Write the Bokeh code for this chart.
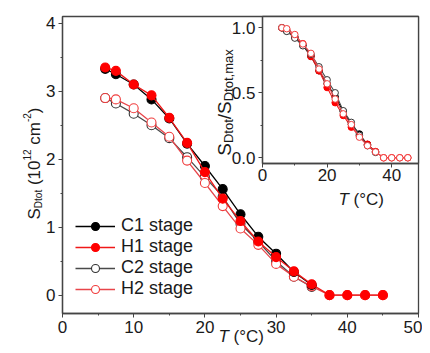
import math
from bokeh.plotting import figure
from bokeh.models import (Range1d, SingleIntervalTicker, Legend, LegendItem, Label,
                          PrintfTickFormatter)
from bokeh.embed import file_html
from bokeh.resources import INLINE

# ---------------- data ----------------
T = [6, 7.5, 10, 12.5, 15, 17.5, 20, 22.5, 25, 27.5, 30, 32.5, 35, 37.5, 40, 42.5, 45]
C1 = [3.33, 3.25, 3.10, 2.88, 2.60, 2.23, 1.90, 1.56, 1.19, 0.86, 0.61, 0.34, 0.15]
H1 = [3.35, 3.30, 3.10, 2.94, 2.61, 2.24, 1.81, 1.42, 1.09, 0.79, 0.56, 0.35, 0.16, 0.0, 0.0, 0.0, 0.0]
C2 = [2.90, 2.82, 2.67, 2.50, 2.31, 2.03, 1.74, 1.45, 1.05, 0.79, 0.50, 0.27, 0.12]
H2 = [2.90, 2.88, 2.75, 2.54, 2.33, 1.98, 1.65, 1.31, 0.98, 0.74, 0.46, 0.27, 0.13, 0.0, 0.0, 0.0, 0.0]
labels = ["C1 stage", "H1 stage", "C2 stage", "H2 stage"]

FONT = "Liberation Sans"
AX = "#444444"
TXT = "#1a1a1a"

styles = {
    "C1 stage": dict(line="#000000", mline="#000000", fill="#000000"),
    "H1 stage": dict(line="#f01818", mline="#ff0000", fill="#ff0000"),
    "C2 stage": dict(line="#4a4a4a", mline="#333333", fill="#ffffff"),
    "H2 stage": dict(line="#e8454a", mline="#f03c3c", fill="#ffffff"),
}
data = {"C1 stage": C1, "H1 stage": H1, "C2 stage": C2, "H2 stage": H2}


def style_axes(fig, xint, yint):
    fig.xgrid.visible = False
    fig.ygrid.visible = False
    fig.outline_line_color = AX
    fig.outline_line_width = 1.3
    fig.xaxis.ticker = SingleIntervalTicker(interval=xint, num_minor_ticks=2)
    fig.yaxis.ticker = SingleIntervalTicker(interval=yint, num_minor_ticks=2)
    for ax in (fig.xaxis, fig.yaxis):
        ax.axis_line_color = AX
        ax.axis_line_width = 1.3
        ax.major_tick_line_color = AX
        ax.minor_tick_line_color = AX
        ax.major_tick_in = 0
        ax.major_tick_out = 4
        ax.minor_tick_in = 0
        ax.minor_tick_out = 2
        ax.major_label_text_font = FONT
        ax.major_label_text_font_size = "17px"
        ax.major_label_text_color = TXT
        ax.major_label_standoff = 3


# ---------------- main figure ----------------
FL, FT, FW, FH = 54, 8, 356, 297   # frame in figure px; figure at page (8, 8)
p = figure(frame_width=FW, frame_height=FH,
           min_border_left=FL, min_border_right=4, min_border_top=FT, min_border_bottom=32,
           x_range=Range1d(0, 50), y_range=Range1d(-0.27, 4.10),
           output_backend="svg", toolbar_location=None)
p.background_fill_color = "white"
p.border_fill_color = "white"
p.styles = {"position": "absolute", "left": "8px", "top": "8px"}
style_axes(p, 10, 1)

rends = {}
for name in ["C2 stage", "H2 stage", "C1 stage", "H1 stage"]:
    ys = data[name]
    xs = T[:len(ys)]
    st = styles[name]
    l = p.line(xs, ys, line_color=st["line"], line_width=1.3)
    s = p.scatter(xs, ys, marker="circle", size=9, fill_color=st["fill"],
                  line_color=st["mline"], line_width=1.1)
    rends[name] = [l, s]

legend = Legend(items=[LegendItem(label=n, renderers=rends[n]) for n in labels],
                location=(13, 14), glyph_width=40, glyph_height=20, label_height=20,
                spacing=0, padding=0, margin=0, label_standoff=6,
                border_line_alpha=0, background_fill_alpha=0,
                label_text_font=FONT, label_text_font_size="18px", label_text_color=TXT)
p.add_layout(legend)

# ---------------- inset ----------------
IL, IT = 212, 14           # inset figure page position
IFL, IFT, IFW, IFH = 50, 2, 156, 147
inset = figure(frame_width=IFW, frame_height=IFH,
               min_border_left=IFL, min_border_right=2, min_border_top=IFT, min_border_bottom=45,
               x_range=Range1d(0, 48.3), y_range=Range1d(-0.044, 1.087),
               output_backend="svg", toolbar_location=None)
inset.background_fill_color = "white"
inset.border_fill_alpha = 0
inset.styles = {"position": "absolute", "left": f"{IL}px", "top": f"{IT}px"}
style_axes(inset, 20, 0.5)
inset.xaxis.major_label_standoff = 1
inset.yaxis.formatter = PrintfTickFormatter(format="%.1f")

for name in labels:
    ys = data[name]
    m = max(ys)
    yn = [v / m for v in ys]
    xs = T[:len(ys)]
    st = styles[name]
    inset.line(xs, yn, line_color=st["line"], line_width=1.1)
    inset.scatter(xs, yn, marker="circle", size=6.5, fill_color=st["fill"],
                  line_color=st["mline"], line_width=1.0)

# ---------------- text overlay (coordinates = page pixels) ----------------
ov = figure(frame_width=414, frame_height=337, min_border=0,
            x_range=Range1d(8, 422), y_range=Range1d(345, 8),
            x_axis_location=None, y_axis_location=None,
            output_backend="svg", toolbar_location=None)
ov.background_fill_alpha = 0
ov.border_fill_alpha = 0
ov.outline_line_color = None
ov.xgrid.visible = False
ov.ygrid.visible = False
ov.styles = {"position": "absolute", "left": "8px", "top": "8px", "pointer-events": "none"}

W = {"S": 0.667, "D": 0.722, "t": 0.278, "o": 0.556, " ": 0.278, "(": 0.333, ")": 0.333,
     "1": 0.556, "2": 0.556, "0": 0.556, "c": 0.5, "m": 0.833, "-": 0.333, "/": 0.278,
     ",": 0.278, "a": 0.556, "x": 0.5, "T": 0.611, "°": 0.4, "C": 0.722}

def len_px(txt, size):
    return sum(W.get(ch, 0.55) for ch in txt) * size

def piece_len(pc):
    txt, size, shift = pc
    return len_px(txt, size) if txt else size  # empty text = gap of `size` px

def rot_pieces(pieces, x_base, y_center):
    """pieces: (text, size, baseline_shift_px); text reads bottom->top."""
    y = y_center + sum(piece_len(pc) for pc in pieces) / 2
    for pc in pieces:
        txt, size, shift = pc
        if txt:
            ov.add_layout(Label(x=x_base + shift, y=y, text=txt, angle=math.pi / 2,
                                text_font=FONT, text_font_size=f"{size}px", text_color=TXT,
                                text_align="left", text_baseline="alphabetic"))
        y -= piece_len(pc)

def t_label(x, y):
    ov.add_layout(Label(x=x, y=y, text="T", text_font=FONT, text_font_size="17px",
                        text_font_style="italic", text_color=TXT, text_baseline="alphabetic"))
    ov.add_layout(Label(x=x + 10.4 + 4.7, y=y, text="(°C)", text_font=FONT,
                        text_font_size="17px", text_color=TXT, text_baseline="alphabetic"))

rot_pieces([("S", 17, 0), ("Dtot", 10, 4), ("", 4.7, 0), ("(10", 17, 0), ("12", 10, -8),
            ("", 4.7, 0), ("cm", 17, 0), ("-2", 10, -8), (")", 17, 0)], 34, 163)
t_label(218, 336)

rot_pieces([("S", 19, 0), ("Dtot", 13, 4), ("/", 19, 0), ("S", 19, 0),
            ("Dtot,max", 13, 4)], 224, 102)
t_label(338, 199)

open("out.html", "w").write(file_html([p, inset, ov], INLINE))
